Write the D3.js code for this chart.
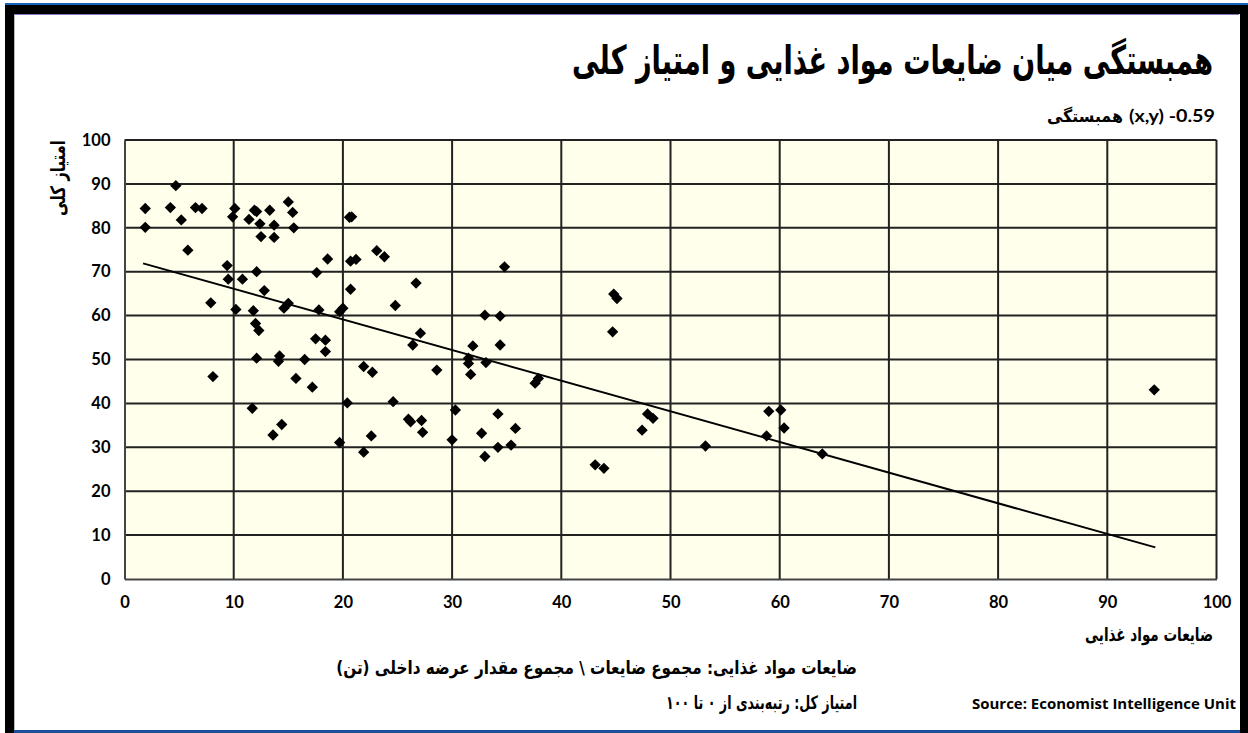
<!DOCTYPE html>
<html><head><meta charset="utf-8">
<script src="https://cdn.jsdelivr.net/npm/d3@7/dist/d3.min.js"></script>
<style>
html,body{margin:0;padding:0;background:#fff;}
svg{display:block;}
</style></head>
<body>
<svg id="c" width="1248" height="733"></svg>
<script>
// ---- data ----
const foodWaste = [1.9,1.9,4.7,4.2,5.2,6.5,7.1,5.8,7.9,9.4,9.5,10.8,10.1,9.9,11.4,11.9,12.1,12.4,12.5,13.3,13.7,13.7,15.0,15.4,15.5,12.1,12.8,10.2,11.8,14.6,15.0,17.6,18.6,17.8,19.7,20.0,20.6,20.8,20.7,21.2,23.1,23.8,20.7,26.7,24.8,33.0,34.4,34.8,27.1,12.0,12.3,17.5,18.4,18.4,12.1,14.2,14.1,16.5,8.1,15.7,17.2,20.4,11.7,14.4,13.6,19.7,21.9,22.7,24.6,28.6,26.4,22.6,21.9,26.0,26.2,27.2,27.3,30.0,30.3,31.9,34.4,31.5,31.5,31.7,33.1,37.6,37.9,32.7,34.2,35.8,34.2,35.4,33.0,44.8,45.1,44.7,47.9,48.4,47.4,53.2,59.0,60.1,60.4,58.8,63.9,43.1,43.9,94.3];
const overallScore = [84.4,80.1,89.6,84.6,81.8,84.6,84.4,74.9,62.9,71.4,68.3,68.3,84.4,82.5,81.9,84.0,83.7,80.9,78.0,84.0,80.6,77.8,85.9,83.5,80.0,70.0,65.7,61.4,61.1,61.7,62.8,69.8,72.9,61.3,60.9,61.7,82.4,82.5,72.4,72.8,74.8,73.4,66.0,67.4,62.3,60.1,59.9,71.1,56.0,58.2,56.6,54.7,54.4,51.8,50.3,50.8,49.6,50.0,46.1,45.7,43.7,40.1,38.9,35.2,32.8,31.1,48.4,47.1,40.4,47.6,53.3,32.6,28.9,36.4,35.8,36.1,33.4,31.7,38.5,53.1,53.3,50.3,49.1,46.6,49.3,44.6,45.7,33.2,37.6,34.3,30.0,30.5,27.9,64.9,63.9,56.3,37.6,36.6,33.9,30.3,38.2,38.5,34.4,32.6,28.5,26.0,25.2,43.1];
const trendX = [1.7, 94.4];
const trendY = [71.9, 7.2];
const xTicks = [0,10,20,30,40,50,60,70,80,90,100];
const yTicks = [0,10,20,30,40,50,60,70,80,90,100];
const titleText = "همبستگی میان ضایعات مواد غذایی و امتیاز کلی";
const corrWord = "همبستگی";
const corrValue = "(x,y) -0.59";
const yLabel = "امتیاز کلی";
const xLabel = "ضایعات  مواد غذایی";
const note1 = "ضایعات مواد غذایی: مجموع ضایعات \\ مجموع مقدار عرضه داخلی (تن)";
const note2 = "امتیاز کل: رتبه‌بندی از ۰ تا ۱۰۰";
const sourceText = "Source: Economist Intelligence Unit";

const svg = d3.select("#c");
const W = 1248, H = 733;

// frame
svg.append("rect").attr("x",0).attr("y",0).attr("width",W).attr("height",H).attr("fill","#fff");
svg.append("rect").attr("x",5).attr("y",3).attr("width",W-5).attr("height",2).attr("fill","#1565c0");
svg.append("rect").attr("x",5).attr("y",5).attr("width",W-5).attr("height",9).attr("fill","#000");
svg.append("rect").attr("x",14).attr("y",14).attr("width",W-23).attr("height",1).attr("fill","#8878c0");
svg.append("rect").attr("x",5).attr("y",5).attr("width",9).attr("height",H-5).attr("fill","#000");
svg.append("rect").attr("x",14).attr("y",15).attr("width",1).attr("height",H-18).attr("fill","#bbb");
svg.append("rect").attr("x",1240).attr("y",5).attr("width",8).attr("height",H-5).attr("fill","#000");
svg.append("rect").attr("x",14).attr("y",730).attr("width",1226).attr("height",3).attr("fill","#1a4f9c");

const x = d3.scaleLinear().domain([0,100]).range([124.5,1216.5]);
const y = d3.scaleLinear().domain([0,100]).range([579,140]);

// plot background
svg.append("rect").attr("x",x(0)).attr("y",y(100)).attr("width",x(100)-x(0)).attr("height",y(0)-y(100))
  .attr("fill","#FFFFEC");

// gridlines
const g = svg.append("g");
g.selectAll("line.v").data(xTicks.filter(d=>d>0)).join("line")
  .attr("x1",d=>x(d)).attr("x2",d=>x(d)).attr("y1",y(0)).attr("y2",y(100))
  .attr("stroke","#222").attr("stroke-width",2);
g.selectAll("line.h").data(yTicks.filter(d=>d>0)).join("line")
  .attr("y1",d=>y(d)).attr("y2",d=>y(d)).attr("x1",x(0)).attr("x2",x(100))
  .attr("stroke","#222").attr("stroke-width",2);

// axes
const tickFont = "Lato, 'DejaVu Sans', sans-serif";
const ax = svg.append("g").attr("transform",`translate(0,${y(0)})`)
  .call(d3.axisBottom(x).tickValues(xTicks).tickSize(0).tickPadding(17).tickFormat(d3.format("d")));
const ay = svg.append("g").attr("transform",`translate(${x(0)},0)`)
  .call(d3.axisLeft(y).tickValues(yTicks).tickSize(0).tickPadding(14).tickFormat(d3.format("d")));
[ax,ay].forEach(a=>{
  a.select(".domain").attr("stroke","#444").attr("stroke-width",2);
  a.selectAll("text").attr("font-family",tickFont).attr("font-weight","bold").attr("font-size",16.5).attr("fill","#000");
});

// trend line
svg.append("line").attr("x1",x(trendX[0])).attr("y1",y(trendY[0])).attr("x2",x(trendX[1])).attr("y2",y(trendY[1]))
  .attr("stroke","#000").attr("stroke-width",2);

// points (rotated squares)
const pts = foodWaste.map((v,i)=>({x:v,y:overallScore[i]}));
const sym = d3.symbol().type(d3.symbolSquare).size(64);
svg.append("g").selectAll("path").data(pts).join("path")
  .attr("d",sym).attr("fill","#000")
  .attr("transform",d=>`translate(${x(d.x)},${y(d.y)}) rotate(45)`);

// texts: render then fit horizontally into target box (right edge + width)
const faFont = "'DejaVu Sans', sans-serif";
function faText(str, right, baseline, fs, width, rtl=true, family=faFont){
  const grp = svg.append("g");
  const t = grp.append("text").attr("x",0).attr("y",0)
    .attr("font-family",family).attr("font-weight","bold").attr("font-size",fs).attr("fill","#000")
    .text(str);
  if (rtl) t.attr("direction","rtl").attr("unicode-bidi","embed");
  const bb = t.node().getBBox();
  const sx = width / bb.width;
  grp.attr("transform",`translate(${right - sx*(bb.x+bb.width)},${baseline}) scale(${sx},1)`);
  return grp;
}
faText(titleText, 1213, 74, 40, 641);
// correlation line: persian word + latin value
faText(corrValue, 1215, 122, 17, 86, false, "Lato, 'DejaVu Sans', sans-serif");
faText(corrWord, 1123, 122, 17, 76);
faText(xLabel, 1213, 641, 19, 128);
faText(note1, 857, 674, 18.5, 521);
faText(note2, 857, 709, 18.5, 191);

// y label rotated
{
  const grp = svg.append("g");
  const t = grp.append("text").attr("x",0).attr("y",0)
    .attr("font-family",faFont).attr("font-weight","bold").attr("font-size",20).attr("fill","#000")
    .attr("direction","rtl").attr("unicode-bidi","embed").text(yLabel);
  const bb = t.node().getBBox();
  const sx = 76 / bb.width;
  const cx = bb.x + bb.width/2, cy = bb.y + bb.height/2;
  grp.attr("transform",`translate(58,178) rotate(-90) scale(${sx},1) translate(${-cx},${-cy})`);
}

svg.append("text").attr("x",1236).attr("y",709).attr("text-anchor","end")
  .attr("font-family","'Liberation Sans Narrow', 'Open Sans', sans-serif").attr("font-weight","bold").attr("font-size",15)
  .attr("textLength",264).attr("lengthAdjust","spacingAndGlyphs").attr("fill","#000")
  .text(sourceText);
</script>
</body></html>
